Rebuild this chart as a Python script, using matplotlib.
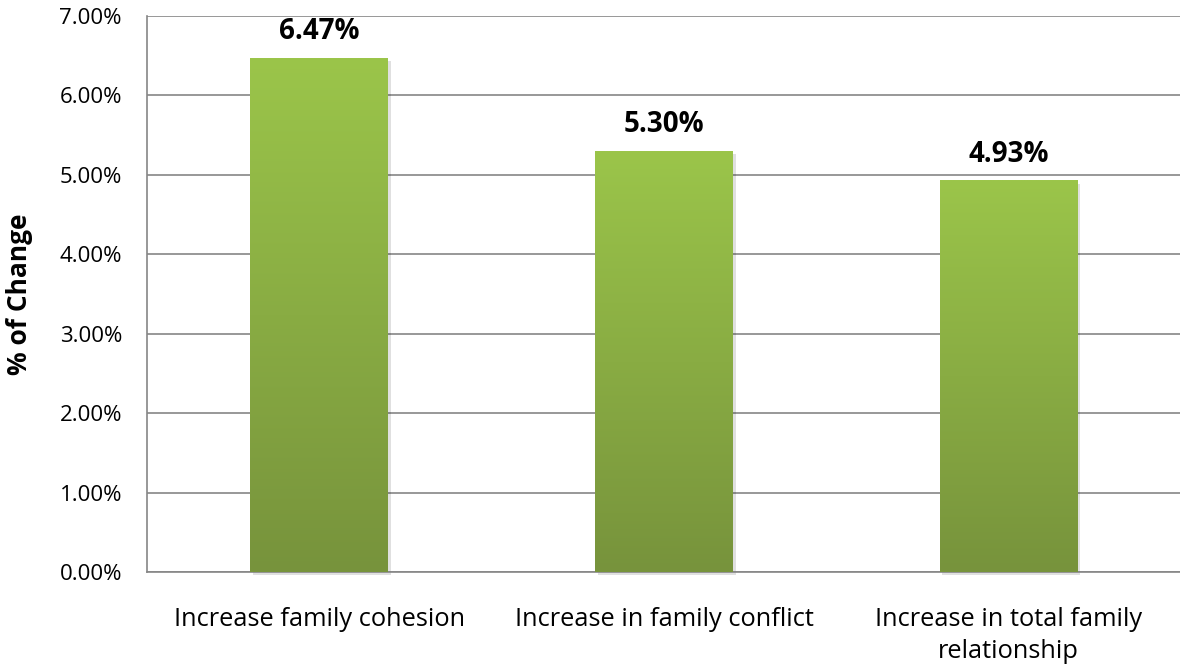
import numpy as np
import matplotlib.pyplot as plt
from matplotlib.colors import LinearSegmentedColormap
from matplotlib.ticker import FuncFormatter, MultipleLocator

categories = ['Increase family cohesion', 'Increase in family conflict',
              'Increase in total family\nrelationship']
values = [6.47, 5.30, 4.93]
labels = ['6.47%', '5.30%', '4.93%']

plt.rcParams['font.family'] = ['Open Sans', 'DejaVu Sans']

fig = plt.figure(figsize=(11.8, 6.69), dpi=100)
ax = fig.add_axes([147 / 1180, 97 / 669, 1034 / 1180, 556 / 669])

x = np.arange(len(categories))
bars = ax.bar(x, values, width=0.40, color='none', zorder=3)

# gradient fill, light green at top to olive at bottom
cmap = LinearSegmentedColormap.from_list('g', ['#77933c', '#9bc54a'])
grad = np.linspace(0, 1, 256).reshape(-1, 1)
for b in bars:
    x0, y0 = b.get_x(), b.get_y()
    w, h = b.get_width(), b.get_height()
    # soft shadow
    ax.bar(x0 + w / 2 + 0.008, h, width=w, bottom=-0.04, color='#000000',
           alpha=0.12, zorder=2, clip_on=False)
    im = ax.imshow(grad, cmap=cmap, extent=[x0, x0 + w, y0, y0 + h],
                   origin='lower', aspect='auto', zorder=3)
    im.set_clip_path(b)

for xi, v, lab in zip(x, values, labels):
    ax.text(xi, v + 0.15, lab, ha='center', va='bottom', fontsize=20,
            fontweight='bold', color='#000000')

ax.set_xlim(-0.5, 2.5)
ax.set_ylim(0, 7)
ax.yaxis.set_major_locator(MultipleLocator(1))
ax.yaxis.set_major_formatter(FuncFormatter(lambda v, p: '%.2f%%' % v))
ax.set_xticks(x)
ax.set_xticklabels(categories, fontsize=18.3, linespacing=1.4)
ax.tick_params(axis='y', labelsize=16, length=0, pad=18)
ax.tick_params(axis='x', length=0, pad=25)
ax.grid(axis='y', color='#868686', linewidth=1.2, zorder=0)
ax.set_axisbelow(True)
for s in ['top', 'right']:
    ax.spines[s].set_visible(False)
for s in ['left', 'bottom']:
    ax.spines[s].set_color('#868686')
    ax.spines[s].set_linewidth(1.2)
fig.text(20 / 1180, 1 - 294 / 669, '% of Change', rotation=90, ha='center',
         va='center', fontsize=19, fontweight='bold')

fig.savefig('out.png', dpi=100)
